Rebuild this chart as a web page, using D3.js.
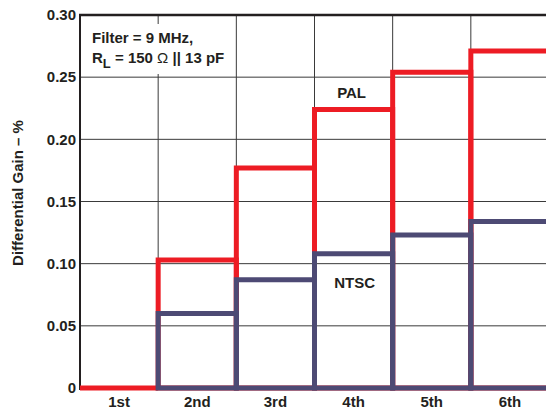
<!DOCTYPE html>
<html><head><meta charset="utf-8">
<script src="https://cdn.jsdelivr.net/npm/d3@7"></script>
<style>
body{margin:0;background:#fff;}
text{font-family:"Liberation Sans",Arial,sans-serif;font-weight:bold;fill:#231f20;}
</style></head>
<body><svg id="c" width="546" height="413"></svg>
<script>
const categories = ["1st","2nd","3rd","4th","5th","6th"];
const palValues  = [0, 0.103, 0.177, 0.224, 0.254, 0.271];
const ntscValues = [0, 0.060, 0.087, 0.108, 0.123, 0.134];
const yTicks = [0, 0.05, 0.10, 0.15, 0.20, 0.25, 0.30];

(function () {
const svg = d3.select("#c");
const FS = 15;
const pLeft = 80, pRight = 549, pTop = 15, pBottom = 388;
const x = d3.scaleBand().domain(categories).range([pLeft, pRight]).padding(0);
const y = d3.scaleLinear().domain([0, 0.3]).range([pBottom, pTop]);

// grid
const g = svg.append("g");
g.selectAll("line.h").data(yTicks.slice(1, -1)).enter().append("line")
  .attr("x1", pLeft).attr("x2", 546).attr("y1", d => y(d)).attr("y2", d => y(d))
  .attr("stroke", "#3a3a3a").attr("stroke-width", 1);
g.selectAll("line.v").data(categories.slice(1)).enter().append("line")
  .attr("x1", d => x(d)).attr("x2", d => x(d)).attr("y1", pTop).attr("y2", pBottom)
  .attr("stroke", "#3a3a3a").attr("stroke-width", 1);
// frame
g.append("line").attr("x1", pLeft - 1).attr("x2", 546).attr("y1", pTop).attr("y2", pTop)
  .attr("stroke", "#231f20").attr("stroke-width", 2.5);
g.append("line").attr("x1", pLeft).attr("x2", pLeft).attr("y1", pTop).attr("y2", pBottom + 2)
  .attr("stroke", "#231f20").attr("stroke-width", 2);

// annotation box
svg.append("rect").attr("x", 82).attr("y", 24).attr("width", 145).attr("height", 50).attr("fill", "#fff");
svg.append("text").attr("x", 92).attr("y", 43).attr("font-size", FS).text("Filter = 9 MHz,");
const t2 = svg.append("text").attr("x", 92).attr("y", 63).attr("font-size", FS);
t2.append("tspan").text("R");
t2.append("tspan").attr("dy", 5).attr("font-size", 13).text("L");
t2.append("tspan").attr("dy", -5).text(" = 150 ");
t2.append("tspan").attr("font-weight", "normal").text("Ω");
t2.append("tspan").text(" || 13 pF");

// bar outline path
const bw = x.bandwidth();
const barPath = (c, v) => `M${x(c)},${y(0)}V${y(v)}H${x(c) + bw}V${y(0)}Z`;

// PAL bars
svg.append("g").selectAll("path").data(categories).enter().append("path")
  .attr("d", (d, i) => barPath(d, palValues[i]))
  .attr("fill", "none").attr("stroke", "#ed1c24").attr("stroke-width", 5)
  .attr("stroke-linejoin", "miter");
// NTSC bars
const nd = categories.map((c, i) => ({c, v: ntscValues[i]})).filter(d => d.v > 0);
svg.append("g").selectAll("path").data(nd).enter().append("path")
  .attr("d", d => barPath(d.c, d.v))
  .attr("fill", "none").attr("stroke", "#4d4a74").attr("stroke-width", 5)
  .attr("stroke-linejoin", "miter");

// series labels
svg.append("text").attr("x", x("4th") + bw / 2 - 2).attr("y", 98).attr("text-anchor", "middle")
  .attr("font-size", FS).text("PAL");
svg.append("text").attr("x", x("4th") + bw / 2 + 1).attr("y", 288).attr("text-anchor", "middle")
  .attr("font-size", FS).text("NTSC");

// axes
const ya = svg.append("g").attr("transform", `translate(${pLeft},0)`)
  .call(d3.axisLeft(y).tickValues(yTicks).tickSize(0).tickPadding(4)
    .tickFormat(d => d === 0 ? "0" : d3.format(".2f")(d)));
ya.select(".domain").remove();
ya.selectAll("text").attr("font-size", FS).attr("font-family", "Liberation Sans, Arial, sans-serif")
  .attr("font-weight", "bold").attr("fill", "#231f20");

const xa = svg.append("g").attr("transform", `translate(0,${pBottom})`)
  .call(d3.axisBottom(x).tickSize(0).tickPadding(8));
xa.select(".domain").remove();
xa.selectAll("text").attr("font-size", FS).attr("font-family", "Liberation Sans, Arial, sans-serif")
  .attr("font-weight", "bold").attr("fill", "#231f20");

svg.append("text").attr("transform", "translate(23,193) rotate(-90)")
  .attr("text-anchor", "middle").attr("font-size", FS).text("Differential Gain – %");
})();
</script></body></html>
